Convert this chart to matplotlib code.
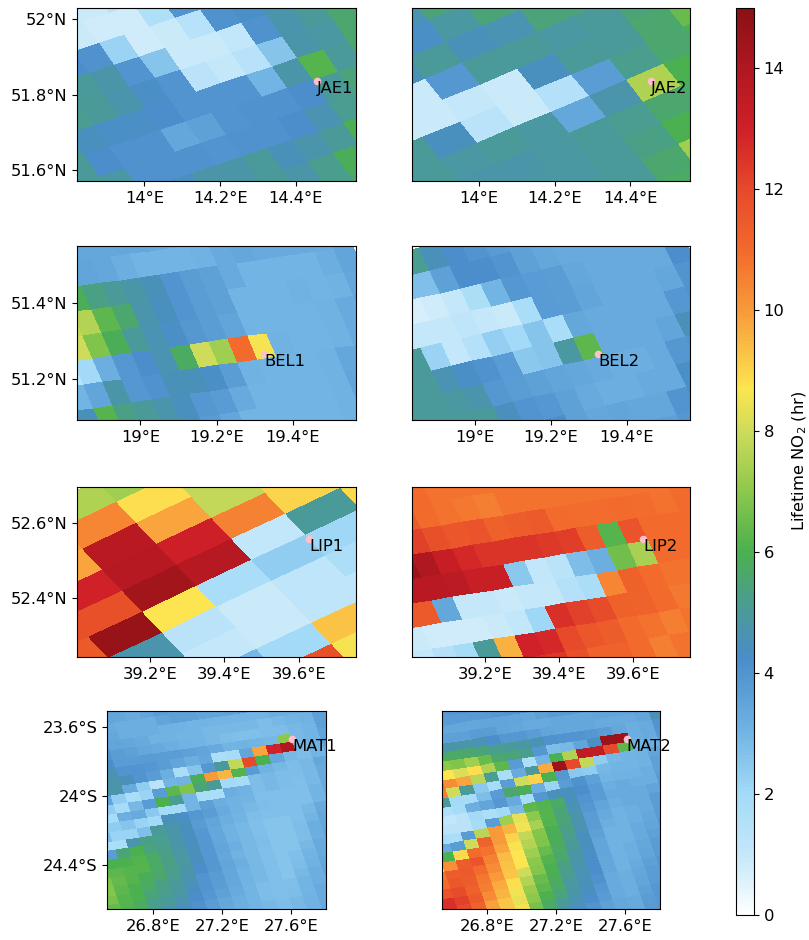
import numpy as np
import matplotlib
matplotlib.use("Agg")
import matplotlib.pyplot as plt
from matplotlib.colors import LinearSegmentedColormap, Normalize
from matplotlib.cm import ScalarMappable

# lifetime values, one list per swath row
jae1_rows = [
    [1, 1, 1, .9, .9, 1.4, 1.5, 4, 4, 4, 4.5, 5, 5.5],
    [.9, .9, .9, .9, .8, .8, 1.6, 4, 4, 4, 4.5, 5, 5.5],
    [4.2, 4.2, 4.2, 4.1, 2.2, .8, .9, 1.4, 4.1, 4.3, 4.6, 5, 5.5],
    [5, 5, 5, 4.8, 4, 2.6, .9, .9, 1.1, 4.1, 4.7, 5, 5.6],
    [5, 5.1, 5, 4.7, 4.3, 4, 1.3, 1, 1.4, 2.6, 4.8, 4.9, 5.6],
    [4.9, 4.4, 4.3, 4.3, 4.2, 4, 4, 4, 3, 4.8, 6.2, 5, 5.6],
    [5, 4.2, 4.1, 4.1, 3.4, 3.6, 4, 4.1, 4.1, 4.2, 5, 5.4, 5.4],
    [5, 4.9, 4.1, 4.1, 4.1, 4, 4.1, 4.1, 4.2, 4.6, 5.1, 5.3, 5.3],
    [4.5, 4.5, 4.5, 4.4, 4.8, 4.8, 5, 4.5, 4.7, 5, 6, 5.3, 5.3],
    [4.8, 4.8, 4.8, 4.8, 4.8, 4.8, 5, 4.8, 5.2, 5.9, 6, 6, 6],
    [5.2, 5.2, 5.2, 5.2, 5.2, 5.2, 5.2, 5.2, 5.2, 5.6, 5.6, 5.6, 5.6],
]
jae1_starts = [-10] * 11

jae2_rows = [
    [5.5, 5.5, 4.6, 5.5, 5.5, 5.5, 5.5, 5.5, 5.5],
    [4.3, 4.3, 4.3, 4.9, 5.5, 5.5, 5.5, 5.5, 5.5],
    [4.5, 4.5, 5, 4.5, 4.6, 5.4, 5.4, 5.6, 5.8],
    [.9, .9, 3.9, 5, 5, 4.9, 5, 5.5, 5.8],
    [.9, .9, 1, .9, 4.4, 5, 5, 5.6, 6.5],
    [5, 4.4, 1.3, .9, 1.5, 3.7, 5.2, 5.6, 5.9],
    [5, 4.9, 5, 4.9, 3.4, 4.7, 7.5, 6, 6],
    [4.9, 4.8, 4.8, 4.9, 5, 5.1, 5.6, 5.7, 5.7],
    [4.9, 4.9, 4.9, 4.9, 5, 5.3, 6, 6, 6],
    [5, 5, 5, 5, 5, 5.6, 7.3, 7, 7],
    [5.7, 5.7, 5.7, 5.7, 5.7, 5.7, 5.7, 5.7, 5.7],
]
jae2_starts = [-6] * 11

bel1_rows = [
    [3.4, 3.4, 3.4, 3.4, 3.4, 3.4, 3.4, 3.3, 3.2, 3.2, 3.2, 3.2, 3.2, 3.2, 3.2, 3.2, 3.2],
    [3.5, 3.5, 3.5, 3.5, 3.4, 3.2, 3, 3, 3, 3.1, 3.3, 3.4, 3.3, 3.3, 3.3, 3.3, 3.6],
    [5.9, 5.9, 5.9, 5.3, 5, 4.8, 4.5, 4, 3.7, 3.6, 3.3, 3, 3, 3, 3, 3.2, 3.5],
    [7.8, 7.8, 7.6, 6.3, 5.6, 4.7, 4.4, 4, 3.7, 3.6, 3, 3, 3, 3.1, 3, 3.1, 3.4],
    [8, 8, 6.8, 5.9, 5, 4.6, 4.3, 3.9, 3.7, 3.5, 3, 3, 3, 3, 3.1, 3.3, 3.6],
    [1.3, 2, 3.2, 3.9, 4.2, 4.6, 5.8, 8, 7.3, 11, 8.6, 3.1, 3, 3, 3.1, 3.3, 3.6],
    [3, 3.5, 4.8, 3.9, 4.1, 4.5, 4.5, 4.3, 3.7, 3.1, 3, 3, 3, 3.1, 3.4, 3.6, 3.6],
    [4.5, 6.2, 5.3, 5, 4.7, 4.4, 3.9, 3.8, 3.3, 3, 3, 3, 3, 3.1, 3.5, 3.5, 3.5],
    [4.5, 4.5, 4.5, 4.5, 4.5, 4.4, 3.8, 3.4, 3, 3, 3, 3, 3, 3.1, 3.4, 3.4, 3.4],
]
bel1_starts = [-10] * 9

bel2_rows = [
    [5.1, 5.1, 5.1, 5.1, 4.5, 4.2, 4, 3.8, 3.6, 3.4, 3.4, 3.4, 3.4, 3.4, 3.4, 3.4],
    [2.7, 2.7, 2.7, 2.7, 3.6, 4.2, 4.2, 4, 3.6, 3.4, 3.3, 3.3, 3.3, 3.3, 3.3, 3.6],
    [.7, .7, .7, .8, 1, 1.7, 3, 3.9, 3.8, 3.7, 3.4, 3.3, 3.3, 3.3, 3.3, 4.2],
    [1, 1, 1, 1, 1.2, 1, .9, 1.8, 3.8, 3.7, 3.5, 3.3, 3.3, 3.3, 3.4, 4],
    [5, 5, 2.2, 1, 1.5, 2.3, 2, 2.6, 1.8, 3.4, 3.3, 3.3, 3.3, 3.3, 3.9, 4],
    [5, 5, 4.6, 4.3, 4.1, 3.8, 2.5, 2.6, 4.9, 6.3, 3.3, 3.3, 3.3, 3.5, 4.5, 4.5],
    [5, 5, 4.9, 4.7, 3.9, 3.7, 3.6, 3.5, 3.4, 3.3, 3.2, 3.2, 3.3, 3.9, 4, 4],
    [5, 5, 5, 5, 4.4, 4, 3.9, 3.6, 3.3, 3.2, 3.2, 3.3, 3.3, 4.3, 4.3, 4.3],
    [4.4, 4.4, 4.4, 4.4, 4.4, 4.4, 4.2, 3.6, 3.4, 3.5, 3.4, 3.4, 4, 4.3, 4.3, 4.3],
    [4.4, 4.4, 4.4, 4.4, 4.4, 4.4, 4.2, 3.6, 3.4, 3.5, 3.5, 3.6, 3.9, 4.3, 4.3, 4.3],
]
bel2_starts = [-9] * 10

lip1_rows = [
    [7.5, 7.5, 7.5, 7.3, 7.5, 8.5, 8.5],
    [10, 10, 10.4, 8.8, 7.8, 8.8, 8.8],
    [9.8, 9.8, 13.7, 9.8, 7.8, 9, 9],
    [13, 13, 13.8, 13.1, 10.5, 9, 9],
    [11.8, 11.8, 14.4, 13.8, 1.1, 5, 8.9],
    [11.5, 14.6, 8.7, 1.8, 2.4, 2.1, 2.1],
    [4.7, 4.7, 1.3, .9, 1.2, 1.7, 1.7],
    [4.7, 4.7, 1, .9, 1.2, 1.2, 1.2],
    [3, 3, 2.9, 2, 9.3, 9.3, 9.3],
    [3, 3, 2.9, 11.8, 8.6, 8.6, 8.6],
]
lip1_starts = [-2] * 10

lip2_rows = [
    [11, 11, 11, 11, 10.8, 10.8, 10.8, 10.8, 10.8, 10.8, 10.8, 10.8, 10.8, 10.8, 10.8, 10.8],
    [11.5, 11.5, 11.5, 11, 10.8, 10.7, 10.6, 10.8, 10.8, 10.8, 10.8, 10.8, 10.8, 10.8, 10.8, 11],
    [12.2, 12.2, 12.2, 11.8, 11.6, 11.7, 11.3, 11.4, 11.5, 11, 10.9, 10.9, 11, 10.9, 10.8, 11],
    [14.5, 14.5, 14, 13.3, 12.8, 12.5, 12.5, 12.5, 12.4, 12.3, 11.4, 6.2, 11.7, 11, 11, 11],
    [13.7, 13.7, 13.7, 13.6, 13.2, 13.2, 2.5, 1.1, 1.3, 2.8, 3.2, 6.6, 7.4, 11, 11, 11.3],
    [11.5, 11.5, 3.4, 1, 1, .9, 1, 1, 1.5, 1.8, 10.4, 11.3, 11, 10.8, 10.8, 10.8],
    [.9, .8, .8, .8, .9, 1.1, 2.1, 12.6, 12.2, 11.9, 11.3, 11.2, 11, 10.7, 10.7, 10.7],
    [1, 1.5, 1.9, 5, 9.6, 13, 12.8, 12, 11.6, 11.4, 11, 10.8, 10.6, 10.8, 10.8, 10.8],
    [1, 1.5, 1.9, 5, 9.6, 12.5, 12.4, 11.8, 11.2, 11.2, 11, 10.6, 10.8, 10.8, 10.8, 10.8],
]
lip2_starts = [-12] * 9

mat1_rows = [
    [3.5, 3.5, 3.5, 3.5],
    [3.5, 3.5, 3.4, 3.3, 3.5, 3.7, 3.6, 3.7],
    [3.4, 3.3, 3.2, 3.2, 3.2, 3.5, 3.6, 3.6, 3.5, 3.5, 3.6, 3.7, 3.6],
    [3.5, 3.4, 3.2, 3.2, 3.2, 3.1, 3.1, 3, 3, 3, 3, 3, 3, 3.2, 3.2, 3.3, 3.8],
    [3.9, 3.5, 3.4, 3.3, 3.1, 3.1, 3, 3, 2.9, 2.9, 2.9, 2.9, 2.8, 2.9, 3, 3.1, 3.6],
    [4, 3.7, 3.6, 3.4, 3.3, 3.2, 3.1, 3, 2.9, 2.8, 2.7, 2.7, 2.8, 2.8, 2.9, 3, 3.6],
    [4.2, 3.8, 3.7, 3.8, 3.7, 3.7, 3.6, 3.5, 3.3, 3, 3.1, 3, 2.9, 7, 2.9, 3, 3.5],
    [4.6, 4.6, 4, 4, 3.9, 3.7, 3.5, 3.2, 3.4, 1.7, 1.9, 3.5, 9.8, 13, 14, 2.9, 3.1, 3.6],
    [4.7, 4.7, 4.5, 4, 3.7, 3.2, 1.8, 2.6, 3.9, 5, 7.8, 12, 6, 3.4, 2.9, 2.8, 3, 3.5],
    [4.7, 4.7, 3.3, 2.4, 1.3, 3, 3.1, 5.9, 10, 9.5, 6.1, 3.8, 3.1, 2.9, 2.8, 2.9, 3.4],
    [3.5, 2.4, 1.8, 2.2, 3.7, 6.3, 6.8, 5.5, 5, 2, 1.9, 2.8, 2.9, 2.8, 2.8, 2.9, 3.3],
    [2.4, 1.9, 2.9, 3.8, 6, 5.1, 3, 1.8, 1.8, 3.2, 3.1, 2.8, 2.9, 2.8, 2.7, 2.9, 3.3],
    [1.9, 1.9, 3.2, 3.3, 2.5, 2, 2, 3, 3.6, 3.2, 3.1, 3, 2.7, 2.7, 2.7, 2.7, 3, 3.3],
    [2.4, 2.4, 2.6, 2.2, 2, 4.5, 4.3, 3.9, 3.7, 3.3, 3.1, 2.9, 2.8, 2.7, 2.7, 2.7, 3, 3.3],
    [2.8, 2.2, 2.2, 2.7, 5, 4.8, 4.5, 3.8, 3.5, 3.2, 3, 2.8, 2.7, 2.7, 2.7, 2.9, 3.3],
    [1.7, 1.8, 4.7, 5.3, 5.1, 4.8, 4.4, 3.9, 3.4, 3.1, 2.9, 2.7, 2.6, 2.6, 2.7, 3, 3.4],
    [3.7, 3.7, 5.5, 6, 5.4, 5.2, 4.8, 4.4, 3.9, 3.4, 3.1, 2.9, 2.7, 2.6, 2.6, 2.8, 3.2, 3.4],
    [6, 6, 6, 6.1, 5.7, 5.3, 4.9, 4.5, 3.9, 3.5, 3.2, 2.9, 2.8, 2.6, 2.6, 2.8, 3.2, 3.5],
    [6.4, 6.3, 6.2, 6.2, 5.7, 5.3, 4.9, 4.4, 3.9, 3.4, 3.1, 2.9, 2.7, 2.6, 2.6, 2.9, 3.3, 3.5],
    [6.8, 6.4, 6.2, 5.9, 5.6, 5.2, 4.8, 4.2, 3.9, 3.5, 3.2, 2.9, 2.7, 2.6, 2.7, 3, 3.3],
    [7, 6.9, 6.3, 6, 5.7, 5.3, 5, 4.6, 4, 3.8, 3.4, 3.1, 2.9, 2.7, 2.6, 2.8, 3.1, 3.4],
    [7, 6.7, 6.2, 6, 5.4, 5.2, 4.9, 4.4, 4, 3.7, 3.4, 3.1, 2.9, 2.7, 2.6, 2.9, 3.2, 3.5],
    [6.4, 6.1, 5.8, 5.2, 5, 4.7, 4.2, 3.9, 3.6, 3.3, 3, 2.8, 2.7, 2.7, 3, 3.2],
    [5, 4.7, 4.4, 4.1, 3.7, 3.4, 3.2, 3, 2.8, 2.7, 2.8, 3, 3.3],
    [3.9, 3.6, 3.3, 3.2, 3, 2.9, 2.8, 2.9, 3.1, 3.3],
    [2.9, 2.8, 2.9, 3.1, 3.3],
]
mat1_starts = [-11, -11, -11, -11, -11, -11, -11, -12, -12, -12, -12, -12, -13, -13,
               -13, -13, -14, -14, -14, -14, -15, -15, -14, -11, -8, -3]

mat2_rows = [
    [3.8, 3.9, 4],
    [3.7, 3.8, 3.8, 3.8, 3.9, 4, 4],
    [3.4, 3.4, 3.4, 3.4, 3.5, 3.5, 3.5, 3.4, 3.6, 3.7, 3.8, 3.8],
    [3.8, 3.6, 3.6, 3.8, 3.7, 3.5, 3.4, 3.3, 3.3, 3.4, 3.4, 3.4, 3.5, 3.5, 3.5, 3.7, 4.3],
    [4.7, 4.8, 4.8, 4.6, 4.2, 3.9, 3.9, 3.7, 3.5, 3.4, 3.4, 3.4, 3.3, 3.3, 3.3, 3.5, 4.5],
    [5.9, 5.9, 5.7, 5.6, 5.5, 5.1, 5, 4.9, 4.6, 4.1, 4, 4, 3.9, 3.7, 3.4, 3.2, 3.3, 4],
    [7, 7, 6.8, 7.3, 6.5, 5.6, 5.4, 5.2, 3.9, 2.8, 2.9, 3.5, 4.3, 14.5, 14.5, 3.2, 3.3, 3.9],
    [9, 8.7, 8.2, 8.8, 7.5, 6.3, 3.8, 1.7, 3, 6, 7.5, 13.5, 13.5, 12, 6.3, 3, 3.2, 3.8],
    [10.8, 10.3, 9.8, 7.7, 5.1, 1.8, 3.3, 5, 9.7, 14.5, 12, 7.8, 2.4, 2.9, 3, 3.1, 3.5],
    [10.5, 8, 5, 2.5, 1.9, 3.7, 8, 9, 6, 3.9, 2.5, 2.4, 2.9, 3, 3, 3.1, 3.6],
    [5, 2, 1.9, 2.8, 3.8, 5.6, 5.9, 3.2, 2.2, 3.7, 4.1, 3.6, 3, 3.1, 3.1, 3.2, 3.6],
    [1.6, 1.9, 3.2, 3.5, 3.9, 3.3, 1.9, 3.9, 4.5, 4.4, 4.2, 3.8, 3.2, 3.3, 3.2, 3.2, 3.7],
    [1.1, 1.3, 2, 1.7, 2, 2.9, 6.3, 6.1, 5.7, 4.5, 4, 3.7, 3.3, 3.3, 3.3, 3.5, 3.9],
    [1.3, 1.3, 1.3, 1.9, 3.7, 7.3, 8.4, 7, 6.2, 5.5, 4.6, 3.9, 3.5, 3.2, 3.3, 3.3, 3.7],
    [1.9, 1.8, 3.8, 7.7, 10, 9.5, 8.5, 7.4, 6.1, 5.5, 4.7, 3.7, 3.3, 3.1, 3.2, 3.3, 3.7],
    [3.3, 3.7, 8, 11.2, 10, 9, 7.8, 6.9, 5.9, 5.3, 4.6, 3.7, 3.2, 3.1, 3.2, 3.4, 3.8],
    [6, 8.9, 11, 10.8, 9.8, 8.6, 7.6, 6.8, 5.9, 5.1, 4.4, 3.6, 3.1, 3.1, 3.3, 3.5, 3.9],
    [8.5, 10.2, 11.4, 11.7, 10.5, 9.4, 8.7, 7.3, 6.5, 5.7, 5, 4.4, 3.5, 3.1, 3.1, 3.3, 3.6, 3.9],
    [10.7, 11.4, 11.5, 11, 10.3, 9.3, 8.7, 7, 6.1, 5.6, 4.8, 4.3, 3.5, 3.1, 3.2, 3.4, 3.7],
    [11, 11.6, 11.4, 10.7, 10, 9.2, 8, 6.9, 6, 5.3, 4.7, 4.2, 3.4, 3.1, 3.2, 3.5, 3.8],
    [11.7, 11.9, 11.3, 10.6, 9.7, 8.8, 7.6, 6.5, 5.9, 5.1, 4.6, 4.2, 3.4, 3.1, 3.3, 3.6, 3.9],
    [13, 12.6, 12.2, 11.5, 10.3, 9.5, 8.5, 7.2, 6.3, 5.7, 4.9, 4.5, 4.1, 3.3, 3.2, 3.4, 3.7, 3.9],
    [12.6, 12, 11.2, 9.9, 9.2, 8.4, 7, 6, 5.4, 4.8, 4.4, 3.9, 3.3, 3.2, 3.5, 3.8],
    [10, 9.2, 8.6, 6.7, 5.7, 5, 4.6, 4.2, 3.8, 3.3, 3.2, 3.6, 3.9],
    [5.2, 4.7, 4.3, 4, 3.6, 3.4, 3.3, 3.7, 3.9],
    [3.4, 3.3, 3.8, 3.9],
]
mat2_starts = [-11, -11, -12, -12, -12, -13, -13, -13, -13, -13, -13, -13, -13,
               -14, -14, -14, -14, -15, -15, -15, -15, -16, -15, -12, -8, -3]

site_names = ["JAE1", "JAE2", "BEL1", "BEL2", "LIP1", "LIP2", "MAT1", "MAT2"]
site_lon = [14.455, 14.455, 19.325, 19.325, 39.628, 39.628, 27.607, 27.607]
site_lat = [51.836, 51.836, 51.264, 51.264, 52.557, 52.557, -23.668, -23.668]

lon_ticks = [[14, 14.2, 14.4], [19, 19.2, 19.4], [39.2, 39.4, 39.6], [26.8, 27.2, 27.6]]
lat_ticks = [[51.6, 51.8, 52], [51.2, 51.4], [52.4, 52.6], [-24.4, -24, -23.6]]
lon_labels = [["14°E", "14.2°E", "14.4°E"], ["19°E", "19.2°E", "19.4°E"],
              ["39.2°E", "39.4°E", "39.6°E"], ["26.8°E", "27.2°E", "27.6°E"]]
lat_labels = [["51.6°N", "51.8°N", "52°N"], ["51.2°N", "51.4°N"],
              ["52.4°N", "52.6°N"], ["24.4°S", "24°S", "23.6°S"]]
cbar_ticks = [0, 2, 4, 6, 8, 10, 12, 14]

# map limits and axes boxes in pixels
xlims = [(13.822, 14.559), (18.833, 19.567), (39.004, 39.754), (26.537, 27.802)]
ylims = [(51.571, 52.03), (51.091, 51.549), (52.241, 52.698), (-24.653, -23.505)]
row_px = [(8, 181), (246, 420), (487, 657), (711, 909)]
col_px = [(77, 356), (412, 690)]
mat_col_px = [(107.3, 326), (441.7, 660.3)]

# swath geometry: lon/lat of anchor cell centre, step along i, step along j (degrees)
geom = {
    "JAE1": ((14.460, 51.879), (.0671, .0222), (.0406, -.0576), -5),
    "JAE2": ((14.4646, 51.831), (.0989, .0417), (.0459, -.0567), -6),
    "BEL1": ((19.321, 51.284), (.0509, .00746), (.0263, -.0614), -5),
    "BEL2": ((19.301, 51.283), (.0535, .0123), (.0281, -.0596), -5),
    "LIP1": ((39.2815, 52.369), (.1462, .0691), (.0538, -.0565), -5),
    "LIP2": ((39.6286, 52.5175), (.0557, .0090), (.0279, -.0611), -4),
    "MAT1": ((27.4246, -23.7414), (.0790, .0116), (.01735, -.0502), -7),
    "MAT2": ((27.521, -23.7275), (.0790, .01256), (.01735, -.0502), -7),
}
panel_rows = [jae1_rows, jae2_rows, bel1_rows, bel2_rows, lip1_rows, lip2_rows, mat1_rows, mat2_rows]
panel_starts = [jae1_starts, jae2_starts, bel1_starts, bel2_starts,
                lip1_starts, lip2_starts, mat1_starts, mat2_starts]

colors = [(0, "#ffffff"), (.6, "#d8f0fb"), (1, "#c4e7fa"), (2, "#a2daf7"), (3, "#72b4e3"),
          (4.2, "#4a8dcb"), (5, "#4a9a9a"), (6, "#4bb04f"), (7, "#8cc84b"), (8, "#cfdb5b"),
          (8.7, "#fce550"), (10, "#f89a3a"), (11, "#f26a2c"), (12, "#e64a2a"), (13, "#d02028"),
          (14, "#b01820"), (15, "#8b1013")]
cmap = LinearSegmentedColormap.from_list("lifetime", [(v / 15, c) for v, c in colors])
norm = Normalize(0, 15)

W, H = 809, 940
FS = 11.8


def px_box(x0, x1, y0, y1):
    return [x0 / W, 1 - y1 / H, (x1 - x0) / W, (y1 - y0) / H]


def cell_grid(rows, starts, j0, anchor, di, dj):
    imin = min(starts)
    imax = max(s + len(r) for s, r in zip(starts, rows))
    vals = np.full((len(rows), imax - imin), np.nan)
    for n, (s, r) in enumerate(zip(starts, rows)):
        vals[n, s - imin:s - imin + len(r)] = r
    I, J = np.meshgrid(np.arange(imin, imax + 1) - .5, np.arange(j0, j0 + len(rows) + 1) - .5)
    lon = anchor[0] + di[0] * I + dj[0] * J
    lat = anchor[1] + di[1] * I + dj[1] * J
    return lon, lat, np.ma.masked_invalid(vals)


fig = plt.figure(figsize=(W / 100, H / 100), dpi=100)

for n, name in enumerate(site_names):
    row, col = n // 2, n % 2
    xpx = mat_col_px[col] if row == 3 else col_px[col]
    ax = fig.add_axes(px_box(xpx[0], xpx[1], row_px[row][0], row_px[row][1]))
    anchor, di, dj, j0 = geom[name]
    lon, lat, vals = cell_grid(panel_rows[n], panel_starts[n], j0, anchor, di, dj)
    ax.pcolormesh(lon, lat, vals, cmap=cmap, norm=norm, shading="flat")
    ax.scatter(site_lon[n], site_lat[n], s=20, color="pink", zorder=3)
    ax.text(site_lon[n], site_lat[n], name, fontsize=FS, ha="left", va="top", zorder=4)
    ax.set_xlim(xlims[row])
    ax.set_ylim(ylims[row])
    ax.set_xticks(lon_ticks[row])
    ax.set_xticklabels(lon_labels[row], fontsize=FS)
    if col == 0:
        ax.set_yticks(lat_ticks[row])
        ax.set_yticklabels(lat_labels[row], fontsize=FS)
    else:
        ax.set_yticks([])

cax = fig.add_axes(px_box(736, 754, 7.5, 915))
cb = fig.colorbar(ScalarMappable(norm=norm, cmap=cmap), cax=cax)
cb.set_ticks(cbar_ticks)
cb.ax.tick_params(labelsize=FS)
cb.set_label("Lifetime NO$_2$ (hr)", fontsize=FS)

fig.savefig("out.png", dpi=100)
